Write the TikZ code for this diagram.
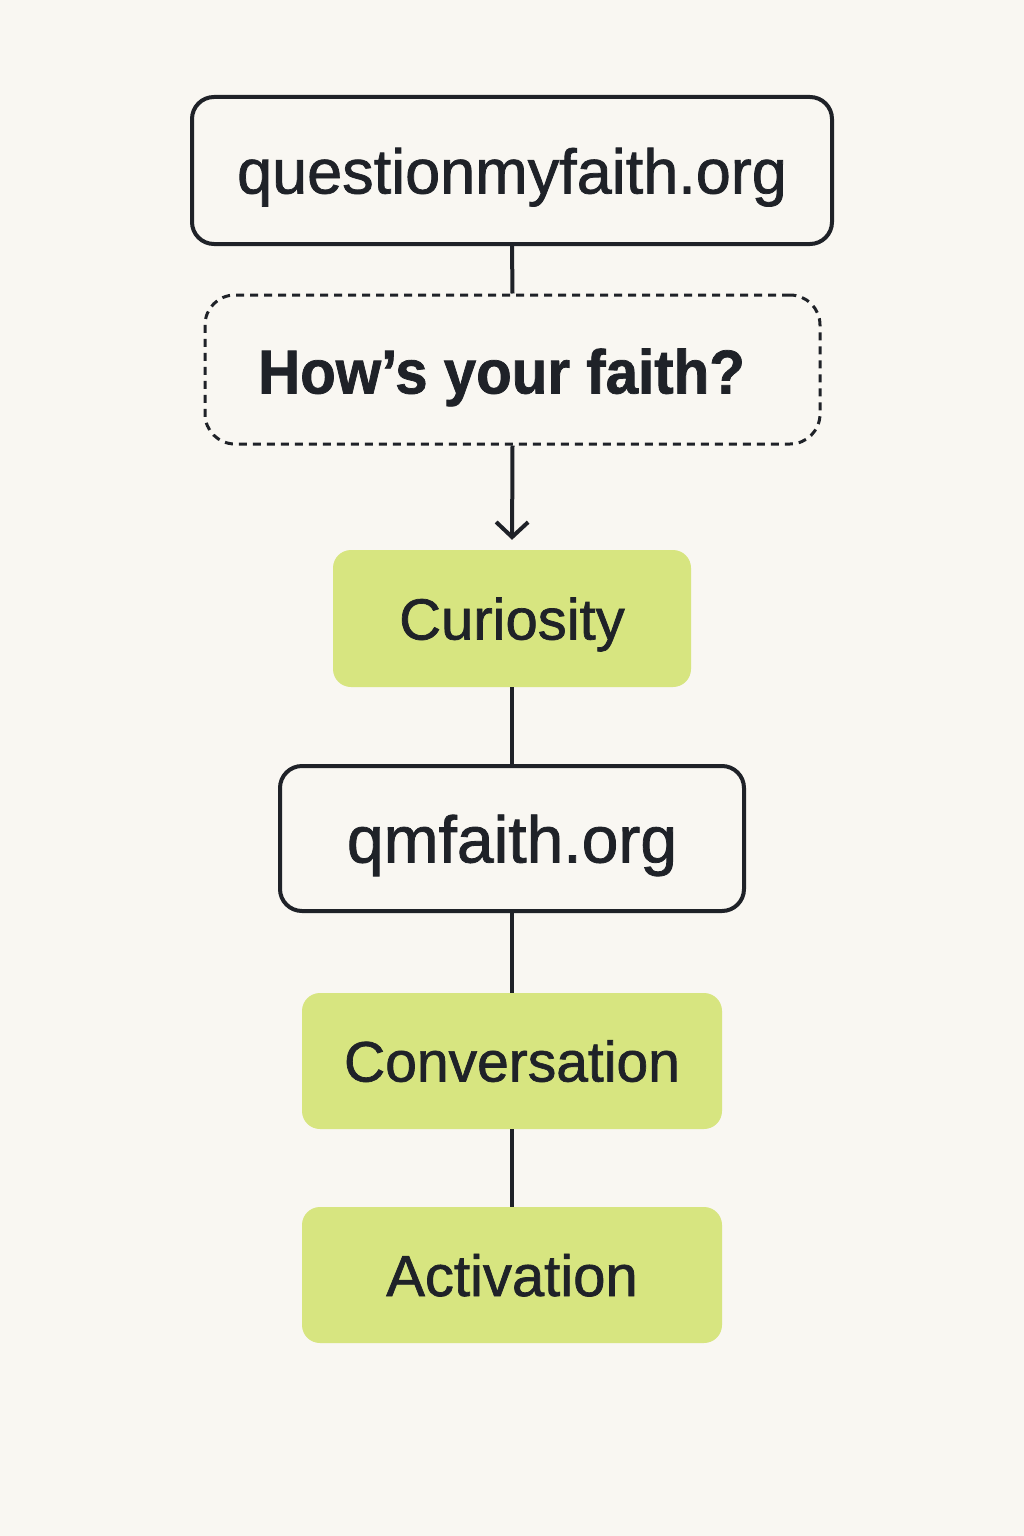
\documentclass[tikz,border=0pt]{standalone}
\usepackage{fontspec}
\setmainfont{Liberation Sans}[FakeBold=1.2]
\usetikzlibrary{arrows.meta}
\definecolor{paper}{HTML}{F9F7F2}
\definecolor{ink}{HTML}{1F2228}
\definecolor{lime}{HTML}{D7E580}
\begin{document}
\begin{tikzpicture}[x=1pt,y=-1pt,
  base/.style={rectangle, inner sep=0pt, text=ink, text depth=0pt, align=center},
  outlined/.style={base, draw=ink, line width=4pt, fill=paper},
  dashbox/.style={base, draw=ink, line width=3pt, dash pattern=on 8pt off 6pt, rounded corners=30pt},
  stage/.style={base, fill=lime, rounded corners=18pt, minimum width=420pt, minimum height=136pt},
  link/.style={draw=ink, line width=4pt}
]
  % page
  \fill[paper] (0,0) rectangle (1024,1536);
  \useasboundingbox (0,0) rectangle (1024,1536);

  % boxes
  \node[outlined, rounded corners=22pt, minimum width=640pt, minimum height=147pt, text height=46pt]
    (site) at (512,170.5) {\fontsize{63}{70}\selectfont questionmyfaith.org};
  \node[dashbox, minimum width=615pt, minimum height=149pt, text height=48pt]
    (ask) at (512.5,369.5) {\fontsize{62}{70}\selectfont\bfseries\addfontfeature{FakeStretch=0.94}How’s your faith?\hspace*{22pt}};
  \node[stage, minimum width=358pt, minimum height=137pt, text height=42pt]
    (cur) at (512,618.5) {\fontsize{58}{66}\selectfont Curiosity};
  \node[outlined, rounded corners=22pt, minimum width=464pt, minimum height=145pt, text height=48pt]
    (qm) at (512,838.5) {\fontsize{66}{74}\selectfont qmfaith.org};
  \node[stage, text height=41pt]
    (conv) at (512,1061) {\fontsize{57}{65}\selectfont Conversation};
  \node[stage, text height=42pt]
    (act) at (512,1275) {\fontsize{58}{66}\selectfont Activation};

  % connectors
  \draw[link] (site.south) -- (ask.north);
  \draw[link, -{Straight Barb[length=15pt,width=32pt,line width=4pt]}, shorten >=10pt]
    (ask.south) -- (cur.north);
  \draw[link] (cur.south) -- (qm.north);
  \draw[link] (qm.south) -- (conv.north);
  \draw[link] (conv.south) -- (act.north);
\end{tikzpicture}
\end{document}
